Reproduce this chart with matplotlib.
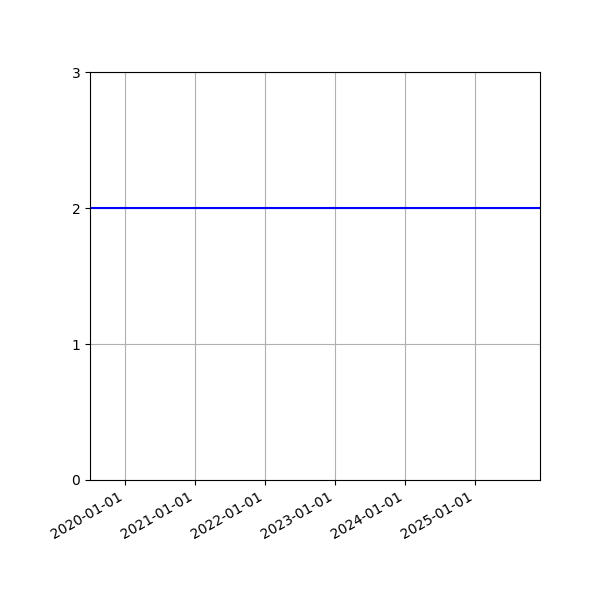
import matplotlib
matplotlib.use("Agg")
import matplotlib.pyplot as plt
import matplotlib.dates as mdates
import numpy as np
import datetime as dt

dates = [dt.datetime(2019, 7, 2), dt.datetime(2025, 12, 6)]
values = [2, 2]
yticks = [0, 1, 2, 3]

fig, ax = plt.subplots(figsize=(6, 6), dpi=100)
fig.subplots_adjust(left=0.15, right=0.9, top=0.88, bottom=0.2)
ax.plot(dates, values, color="b", linewidth=1.5)
ax.set_xlim(dates[0], dates[-1])
ax.set_ylim(0, 3)
ax.set_yticks(yticks)
ax.xaxis.set_major_locator(mdates.YearLocator())
ax.xaxis.set_major_formatter(mdates.DateFormatter("%Y-%m-%d"))
ax.grid(True)
ax.set_axisbelow(True)
fig.autofmt_xdate()
fig.subplots_adjust(left=0.15, right=0.9, top=0.88, bottom=0.2)
fig.savefig("out.png", dpi=100)
